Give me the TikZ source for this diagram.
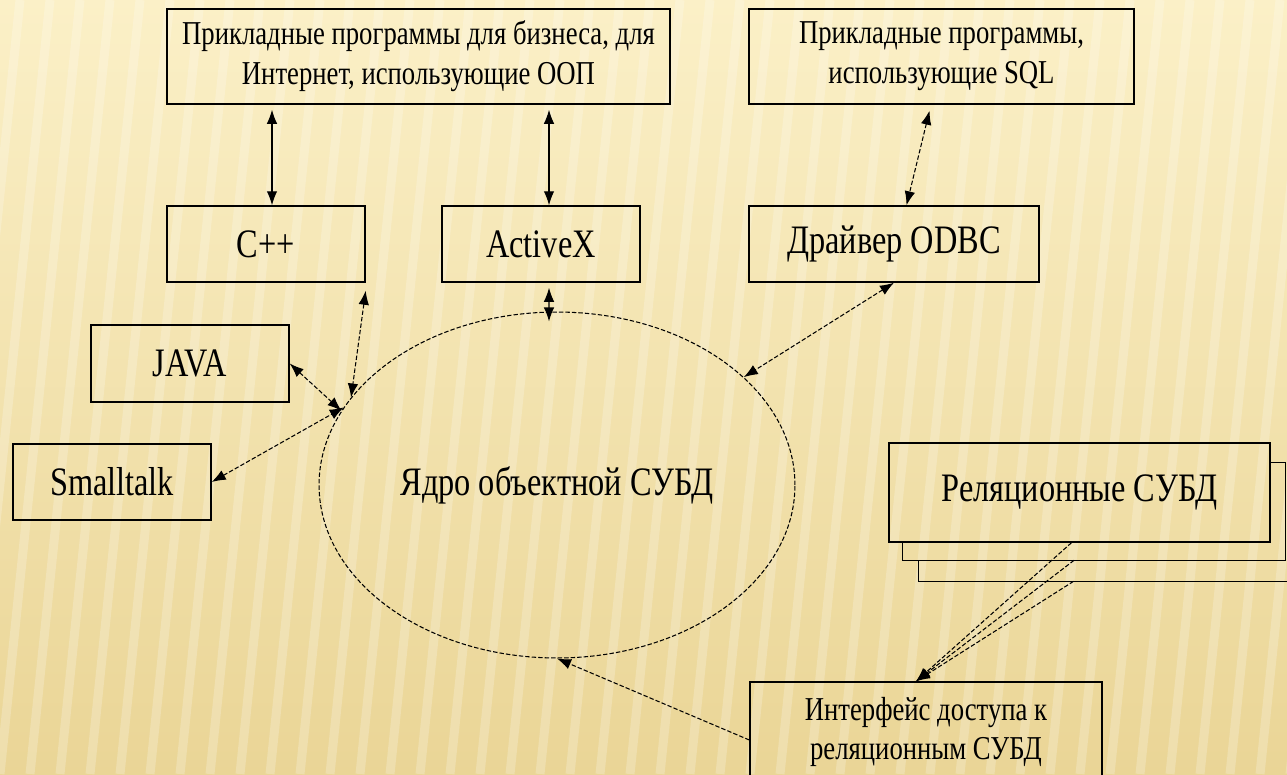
\documentclass[tikz,border=0pt]{standalone}
\usepackage{fontspec}
\setmainfont[FakeStretch=0.8]{Liberation Serif}
\usetikzlibrary{shapes.geometric,arrows.meta}

\definecolor{bgtop}{RGB}{251,240,199}
\definecolor{bgmid}{RGB}{245,229,174}
\definecolor{bgbot}{RGB}{234,213,150}

\tikzset{
  box/.style={draw, line width=0.8pt, inner sep=0pt, align=center,
    font=\fontsize{23}{27}\selectfont},
  smallbox/.style={box, font=\fontsize{19}{22.7}\selectfont},
  link/.style={line width=0.6pt, dash pattern=on 2.5pt off 1.2pt,
    >={Latex[length=8pt,width=6pt]}},
  solidlink/.style={line width=0.7pt, >={Latex[length=8pt,width=6pt]}},
  stripe/.style={white, opacity=0.22, line width=0.18cm}
}

\begin{document}
\begin{tikzpicture}[x=0.02cm, y=-0.02cm]
          \useasboundingbox (0,0) rectangle (1287,774);
          \clip (0,0) rectangle (1287,774);
          \fill[top color=bgtop, middle color=bgmid, bottom color=bgbot] (0,0) rectangle (1287,774);
          \foreach \i in {-4,...,46}
              \draw[stripe] ({\i*30+80},0) -- ({\i*30},774);

          \node[smallbox, minimum width=10.06cm, minimum height=1.9cm] (apps) at (418.5,56.5)
              {Прикладные программы для бизнеса, для\\Интернет, использующие ООП};
          \node[smallbox, minimum width=7.7cm, minimum height=1.9cm] (sqlapps) at (941.5,56.5)
              {Прикладные программы,\\использующие SQL};

          \node[box, minimum width=3.96cm, minimum height=1.52cm] (cpp) at (266,244) {C++};
          \node[box, minimum width=3.96cm, minimum height=1.52cm] (activex) at (541,244) {ActiveX};
          \node[box, minimum width=5.8cm, minimum height=1.52cm] (odbc) at (894,244) {Драйвер ODBC};
          \node[box, minimum width=3.96cm, minimum height=1.54cm] (java) at (190,363.5) {JAVA};
          \node[box, minimum width=3.96cm, minimum height=1.52cm] (smalltalk) at (112,482) {Smalltalk};

          \node[box, link, ellipse, minimum width=9.52cm, minimum height=6.92cm] (core) at (557,485)
              {Ядро объектной СУБД};

          \node[minimum width=7.62cm, minimum height=2cm, inner sep=0pt] (rel3) at (1109.5,531) {};
          \node[minimum width=7.64cm, minimum height=1.94cm, inner sep=0pt] (rel2) at (1094,511.5) {};
          \node[box, minimum width=7.62cm, minimum height=1.98cm] (rel1) at (1079.5,492.5) {Реляционные СУБД};
          \draw[line width=0.8pt] (rel2.south west |- rel1.south) -- (rel2.south west) -- (rel2.south east)
              -- (rel2.north east) -- (rel1.east |- rel2.north);
          \draw[line width=0.8pt] (rel3.south west |- rel2.south) -- (rel3.south west) -- (rel3.south east);

          \node[smallbox, minimum width=7.04cm, minimum height=2cm] (iface) at (926,732)
              {Интерфейс доступа к\\реляционным СУБД};

          \draw[solidlink, <->] ([xshift=0.12cm,yshift=-0.1cm]cpp.north |- apps.south) -- ([xshift=0.12cm]cpp.north);
          \draw[solidlink, <->] ([xshift=0.16cm,yshift=-0.1cm]activex.north |- apps.south) -- ([xshift=0.16cm]activex.north);
          \draw[link, <->] ([xshift=-0.24cm,yshift=-0.12cm]sqlapps.south) -- ([xshift=0.25cm]odbc.north);
          \draw[solidlink, <->] ([xshift=0.16cm,yshift=-0.1cm]activex.south) -- ([xshift=-0.16cm,yshift=-0.2cm]core.north);
          \draw[link, <->] (odbc.south) -- (core.30);
          \draw[link, <->] ([yshift=-0.16cm]cpp.south east) -- (core.157);
          \draw[link, <->] (java.east) -- (core.161);
          \draw[link, <->] (smalltalk.east) -- (core.160);
          \draw[link, ->] ([yshift=-0.16cm]iface.west) -- (core.south);

          \coordinate (tip) at ([xshift=-0.2cm]iface.north);
          \draw[link, ->] ([xshift=-0.16cm]rel1.south) -- (tip);
          \draw[link, ->] ([xshift=-0.4cm]rel2.south) -- (tip);
          \draw[link, ->] ([xshift=-0.72cm]rel3.south) -- (tip);
        \end{tikzpicture}
\end{document}
